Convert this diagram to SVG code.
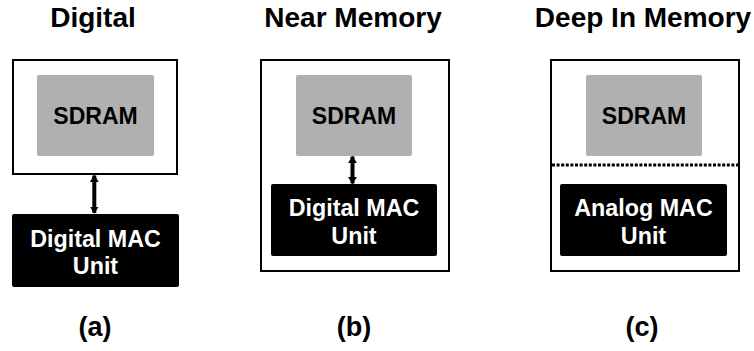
<svg xmlns="http://www.w3.org/2000/svg" width="754" height="351" viewBox="0 0 754 351">
  <defs>
    <style>
      text { font-family: "Liberation Sans", Arial, sans-serif; font-weight: bold; text-anchor: middle; }
      .title { font-size: 28px; fill: #000; }
      .cap { font-size: 27px; fill: #000; }
      .outer { fill: #fff; stroke: #000; stroke-width: 2; }
      .mem { fill: #b0b0b0; }
      .memtxt { font-size: 23px; fill: #000; }
      .mac { fill: #000; }
      .mactxt { font-size: 23.3px; fill: #fff; }
      .conn { stroke: #000; stroke-width: 4; fill: none; }
      .dots { stroke: #000; stroke-width: 3; stroke-dasharray: 3 1.6; }
    </style>
    <marker id="ah" viewBox="0 0 10 10" refX="9" refY="5" markerWidth="1.8" markerHeight="2.2" preserveAspectRatio="none" orient="auto-start-reverse" markerUnits="strokeWidth">
      <path d="M0,0 L10,5 L0,10 z" fill="#000"/>
    </marker>
  </defs>
  <rect width="754" height="351" fill="#fff"/>

  <!-- Panel (a) -->
  <g id="panel-a">
    <text class="title" x="93" y="27">Digital</text>
    <rect class="outer" x="13" y="60" width="164" height="114"/>
    <g id="sdram-a">
      <rect class="mem" x="37" y="75" width="117" height="81" rx="2"/>
      <text class="memtxt" x="95.5" y="123.5">SDRAM</text>
    </g>
    <g id="mac-a">
      <rect class="mac" x="12" y="214" width="167" height="73" rx="2"/>
      <text class="mactxt" x="95.5" y="246.5">Digital MAC</text>
      <text class="mactxt" x="95.5" y="274">Unit</text>
    </g>
    <text class="cap" x="95" y="336">(a)</text>
  </g>

  <!-- Panel (b) -->
  <g id="panel-b">
    <text class="title" x="353" y="27">Near Memory</text>
    <rect class="outer" x="261" y="60" width="188" height="211"/>
    <g id="sdram-b">
      <rect class="mem" x="296" y="75" width="116" height="81" rx="2"/>
      <text class="memtxt" x="354" y="123.5">SDRAM</text>
    </g>
    <g id="mac-b">
      <rect class="mac" x="271" y="184" width="166" height="72" rx="2"/>
      <text class="mactxt" x="354" y="216.3">Digital MAC</text>
      <text class="mactxt" x="354" y="243.5">Unit</text>
    </g>
    <text class="cap" x="354" y="336">(b)</text>
  </g>

  <!-- Panel (c) -->
  <g id="panel-c">
    <text class="title" x="643" y="27">Deep In Memory</text>
    <rect class="outer" x="551" y="60" width="188" height="211"/>
    <g id="sdram-c">
      <rect class="mem" x="586" y="75" width="116" height="81" rx="2"/>
      <text class="memtxt" x="644" y="123.5">SDRAM</text>
    </g>
    <line class="dots" x1="552" y1="165" x2="738" y2="165"/>
    <g id="mac-c">
      <rect class="mac" x="560" y="184" width="167" height="72" rx="2"/>
      <text class="mactxt" x="643.5" y="216.3">Analog MAC</text>
      <text class="mactxt" x="643.5" y="243.5">Unit</text>
    </g>
    <text class="cap" x="642" y="336">(c)</text>
  </g>

  <!-- Connectors -->
  <g id="connectors">
    <line class="conn" x1="94.3" y1="175.5" x2="94.3" y2="213" marker-start="url(#ah)" marker-end="url(#ah)"/>
    <line class="conn" x1="352.5" y1="156.5" x2="352.5" y2="183.5" marker-start="url(#ah)" marker-end="url(#ah)"/>
  </g>
</svg>
